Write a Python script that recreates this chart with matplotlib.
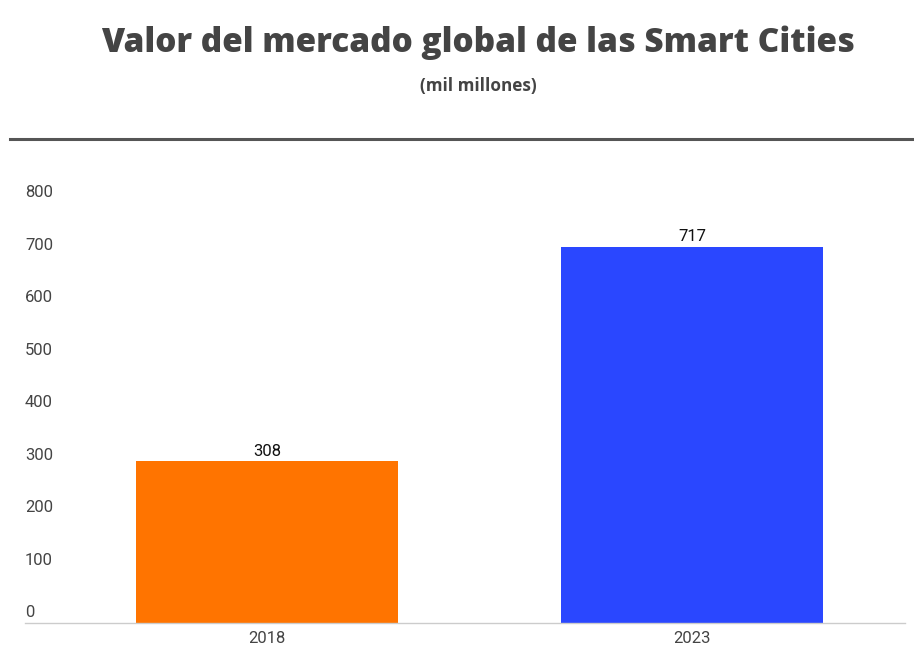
import matplotlib.pyplot as plt
from matplotlib.lines import Line2D
import matplotlib.transforms as mtransforms

years = ['2018', '2023']
values = [308, 717]
colors = ['#FF7400', '#2A47FF']
yticks = [0, 100, 200, 300, 400, 500, 600, 700, 800]

plt.rcParams['font.family'] = ['Roboto', 'DejaVu Sans']

fig = plt.figure(figsize=(9.14, 6.53), dpi=100)
ax = fig.add_axes([0.0274, 0.0459, 0.9626, 0.643])

x = range(len(years))
bars = ax.bar(x, values, width=0.616, color=colors, edgecolor='none', zorder=2)
for xi, v in zip(x, values):
    ax.annotate(str(v), (xi, v), xytext=(0, 2), textcoords='offset points',
                ha='center', va='bottom', fontsize=12, color='#111111')

ax.set_xlim(-0.57, 1.50)
ax.set_ylim(0, 800)
ax.set_xticks(list(x))
ax.set_xticklabels(years, fontsize=12, color='#444444')
ax.tick_params(axis='x', length=0, pad=6)
ax.set_yticks([])

# y labels sit just above their gridline positions, inside the plot
trans = mtransforms.blended_transform_factory(ax.transAxes, ax.transData)
for t in yticks:
    ax.annotate(str(t), (0, t), xycoords=trans, xytext=(0, 2),
                textcoords='offset points', ha='left', va='bottom',
                fontsize=12, color='#444444')

for s in ['top', 'right', 'left']:
    ax.spines[s].set_visible(False)
ax.spines['bottom'].set_color('#cccccc')
ax.spines['bottom'].set_linewidth(1)

fig.text(0.523, 0.935, 'Valor del mercado global de las Smart Cities',
         ha='center', va='center', fontsize=24, fontweight='heavy',
         color='#444444', family=['Open Sans', 'DejaVu Sans'])
fig.text(0.523, 0.869, '(mil millones)', ha='center', va='center',
         fontsize=12.3, fontweight='bold', color='#444444',
         family=['Open Sans', 'DejaVu Sans'])

fig.add_artist(Line2D([0.011, 1.0], [0.787, 0.787], transform=fig.transFigure,
                      color='#555555', linewidth=2.2))

fig.savefig('out.png', dpi=100)
